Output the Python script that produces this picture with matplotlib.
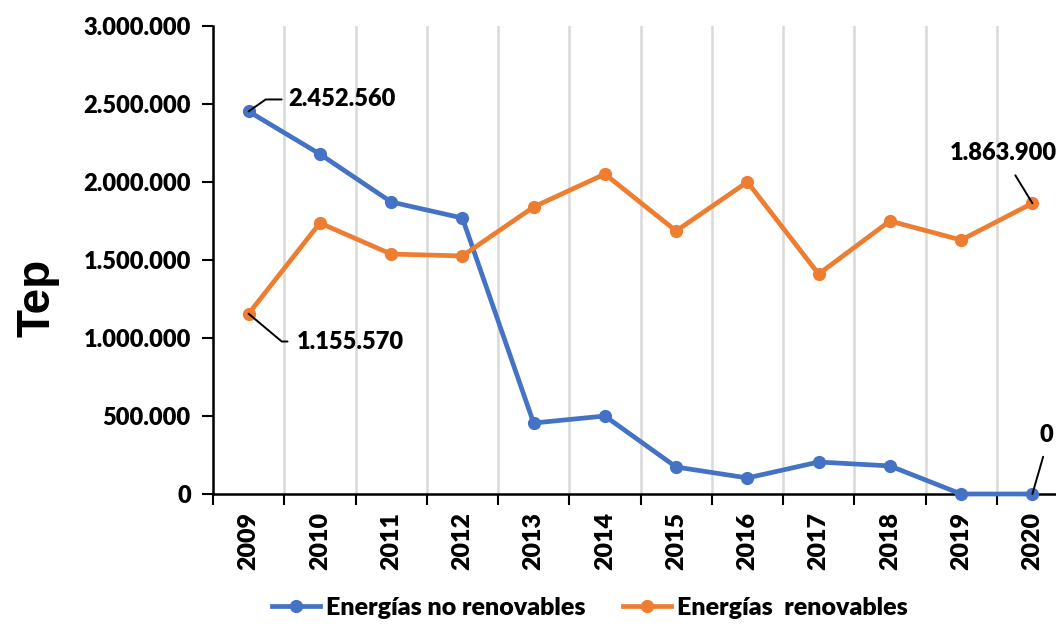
import matplotlib.pyplot as plt
from matplotlib.ticker import FuncFormatter, FixedLocator

# Energy consumption in tonnes of oil equivalent (Tep)
years = ["2009", "2010", "2011", "2012", "2013", "2014",
         "2015", "2016", "2017", "2018", "2019", "2020"]
no_renovables = [2452560, 2179000, 1872000, 1769000, 455000, 500000,
                 173000, 103000, 205000, 180000, 0, 0]
renovables = [1155570, 1737000, 1538000, 1526000, 1840000, 2051000,
              1686000, 2000000, 1410000, 1750000, 1628000, 1863900]

BLUE = "#4472C4"
ORANGE = "#ED7D31"
FONT = "Lato"
WEIGHT = "heavy"


def miles(v, pos=None):
    return f"{int(round(v)):,}".replace(",", ".")


fig = plt.figure(figsize=(10.56, 6.24), dpi=100)
ax = fig.add_axes([213 / 1056, 1 - 494 / 624, (1068 - 213) / 1056, 468 / 624])

x = list(range(len(years)))
ax.plot(x, no_renovables, color=BLUE, lw=3.4, marker="o", ms=8.5,
        label="Energías no renovables", zorder=3, clip_on=False)
ax.plot(x, renovables, color=ORANGE, lw=3.4, marker="o", ms=8.5,
        label="Energías  renovables", zorder=3, clip_on=False)

ax.set_xlim(-0.5, len(years) - 0.5)
ax.set_ylim(0, 3000000)
ax.set_yticks(range(0, 3000001, 500000))
ax.yaxis.set_major_formatter(FuncFormatter(miles))

# category boundaries carry ticks and vertical grid lines
bounds = [i - 0.5 for i in range(len(years) + 1)]
ax.xaxis.set_major_locator(FixedLocator(bounds))
ax.xaxis.set_minor_locator(FixedLocator(x))
ax.set_xticklabels([""] * len(bounds))
ax.set_xticklabels(years, minor=True, rotation=90)
ax.tick_params(axis="x", which="minor", length=0, pad=13)
ax.tick_params(axis="x", which="major", length=8, width=1.5, direction="out")
ax.tick_params(axis="y", length=8, width=1.5, direction="out", pad=8)
ax.grid(axis="x", which="major", color="#d9d9d9", lw=1.8)
ax.set_axisbelow(True)

for lab in ax.get_yticklabels():
    lab.set_fontfamily(FONT)
    lab.set_fontweight(WEIGHT)
    lab.set_fontsize(17)
for lab in ax.get_xticklabels(minor=True):
    lab.set_fontfamily(FONT)
    lab.set_fontweight(WEIGHT)
    lab.set_fontsize(18)

for side in ("top", "right"):
    ax.spines[side].set_visible(False)
for side in ("left", "bottom"):
    ax.spines[side].set_linewidth(1.8)

ax.set_ylabel("Tep", fontsize=33, fontweight="bold", family="Liberation Sans")
ax.yaxis.set_label_coords(-0.179, 0.419)

# value labels with leader lines
txt_kw = dict(fontsize=17, fontweight=WEIGHT, family=FONT,
              textcoords="offset points", va="center", annotation_clip=False)
ax.annotate(miles(no_renovables[0]), xy=(0, no_renovables[0]),
            xytext=(28.8, 8.6), ha="left",
            arrowprops=dict(arrowstyle="-", color="black", lw=1.4,
                            shrinkA=3, shrinkB=0, relpos=(0, 0.5),
                            connectionstyle="angle,angleA=0,angleB=35,rad=0"),
            **txt_kw)
ax.annotate(miles(renovables[0]), xy=(0, renovables[0]),
            xytext=(35, -20), ha="left",
            arrowprops=dict(arrowstyle="-", color="black", lw=1.4,
                            shrinkA=5, shrinkB=0, relpos=(0, 0.5),
                            connectionstyle="angle,angleA=0,angleB=-40,rad=0"),
            **txt_kw)
ax.annotate(miles(renovables[-1]), xy=(11, renovables[-1]),
            xytext=(-21, 36), ha="center",
            arrowprops=dict(arrowstyle="-", color="black", lw=1.4,
                            shrinkA=7, shrinkB=0, relpos=(0.55, 0)),
            **txt_kw)
ax.annotate(miles(no_renovables[-1]), xy=(11, no_renovables[-1]),
            xytext=(10, 42.5), ha="center",
            arrowprops=dict(arrowstyle="-", color="black", lw=1.4,
                            shrinkA=6, shrinkB=0, relpos=(0.5, 0)),
            **txt_kw)

fig.legend(loc="center", bbox_to_anchor=(590 / 1056, 1 - 608 / 624), ncol=2,
           frameon=False, handlelength=1.9, handletextpad=0.25,
           columnspacing=1.5,
           prop={"family": FONT, "weight": WEIGHT, "size": 18})

fig.savefig("out.png", dpi=100)
